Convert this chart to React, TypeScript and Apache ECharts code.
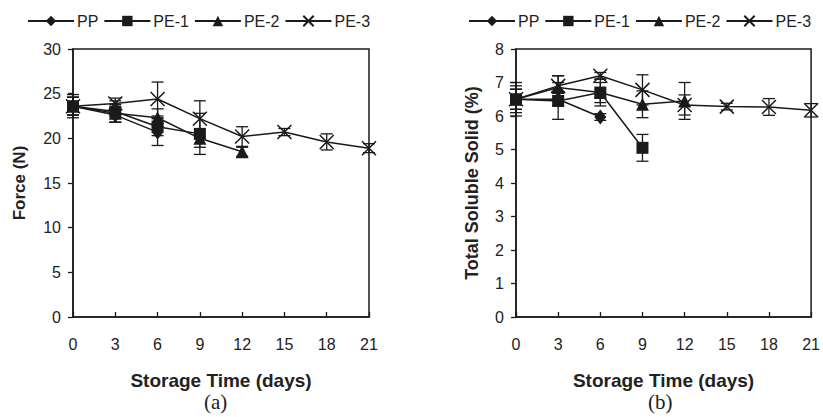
import React, { useEffect, useRef } from "react";
import * as echarts from "echarts";

const days = [0, 3, 6, 9, 12, 15, 18, 21];
const seriesNames = ["PP", "PE-1", "PE-2", "PE-3"];

// (a) Force (N)
const forcePP = [23.6, 22.6, 20.7];
const forcePE1 = [23.6, 23.0, 21.3, 20.5];
const forcePE2 = [23.6, 22.8, 22.3, 20.0, 18.5];
const forcePE3 = [23.6, 23.9, 24.4, 22.2, 20.2, 20.7, 19.6, 18.9];
const forceErrPP = [1.0, 0.8, 1.5];
const forceErrPE1 = [1.3, 1.2, 1.0, 2.3];
const forceErrPE2 = [1.0, 1.0, 1.0, 1.0, 0.5];
const forceErrPE3 = [1.0, 0.6, 1.9, 2.0, 1.1, 0.4, 0.9, 0.5];

// (b) Total Soluble Solid (%)
const tssPP = [6.5, 6.5, 5.97];
const tssPE1 = [6.5, 6.45, 6.7, 5.05];
const tssPE2 = [6.5, 6.85, 6.7, 6.35, 6.45];
const tssPE3 = [6.5, 6.9, 7.2, 6.78, 6.33, 6.28, 6.27, 6.17];
const tssErrPP = [0.5, 0.2, 0.1];
const tssErrPE1 = [0.4, 0.55, 0.4, 0.4];
const tssErrPE2 = [0.3, 0.35, 0.3, 0.4, 0.55];
const tssErrPE3 = [0.3, 0.3, 0.1, 0.45, 0.3, 0.1, 0.25, 0.2];

const forceTicks = [0, 5, 10, 15, 20, 25, 30];
const tssTicks = [0, 1, 2, 3, 4, 5, 6, 7, 8];

const INK = "#1a1a1a";
const FONT = "'Liberation Sans', Arial, sans-serif";

const symbols: Record<string, { symbol: string; size: number | number[]; hollow?: boolean }> = {
  PP: { symbol: "diamond", size: [12, 15] },
  "PE-1": { symbol: "rect", size: 12 },
  "PE-2": { symbol: "triangle", size: 13 },
  "PE-3": { symbol: "path://M0,0L10,10M10,0L0,10", size: 14, hollow: true },
};

function App() {
  const ref = useRef<HTMLDivElement>(null);
  useEffect(() => {
    if (!ref.current) return;
    const chart = echarts.init(ref.current, null, { renderer: "svg" });

    const grids = [
      { left: 73, right: 454, top: 49, bottom: 100 },
      { left: 516, right: 11, top: 49, bottom: 100 },
    ];

    const panels = [
      {
        vals: [forcePP, forcePE1, forcePE2, forcePE3],
        errs: [forceErrPP, forceErrPE1, forceErrPE2, forceErrPE3],
      },
      {
        vals: [tssPP, tssPE1, tssPE2, tssPE3],
        errs: [tssErrPP, tssErrPE1, tssErrPE2, tssErrPE3],
      },
    ];

    const series: any[] = [];
    panels.forEach((p, gi) => {
      seriesNames.forEach((name, si) => {
        const s = symbols[name];
        const data = p.vals[si].map((v, i) => [days[i], v]);
        series.push({
          type: "line",
          name,
          xAxisIndex: gi,
          yAxisIndex: gi,
          data,
          symbol: s.symbol,
          symbolSize: s.size,
          showAllSymbol: true,
          lineStyle: { color: INK, width: 1.5 },
          itemStyle: s.hollow
            ? { color: "rgba(0,0,0,0)", borderColor: INK, borderWidth: 1.5 }
            : { color: INK, borderWidth: 0 },
          z: 3,
          emphasis: { disabled: true },
        });
        const errData = p.vals[si].map((v, i) => [days[i], v, p.errs[si][i]]);
        series.push({
          type: "custom",
          name: name + " err",
          xAxisIndex: gi,
          yAxisIndex: gi,
          data: errData,
          z: 2,
          silent: true,
          renderItem: (params: any, api: any) => {
            const x = api.value(0);
            const y = api.value(1);
            const e = api.value(2);
            const top = api.coord([x, y + e]);
            const bot = api.coord([x, y - e]);
            const hw = 6;
            const st = { stroke: INK, lineWidth: 1.3 };
            return {
              type: "group",
              children: [
                { type: "line", shape: { x1: top[0], y1: top[1], x2: bot[0], y2: bot[1] }, style: st },
                { type: "line", shape: { x1: top[0] - hw, y1: top[1], x2: top[0] + hw, y2: top[1] }, style: st },
                { type: "line", shape: { x1: bot[0] - hw, y1: bot[1], x2: bot[0] + hw, y2: bot[1] }, style: st },
              ],
            };
          },
        });
      });
    });

    const xAxisBase = (gi: number) => ({
      type: "value",
      gridIndex: gi,
      min: 0,
      max: 21,
      interval: 3,
      axisLine: { show: true, lineStyle: { color: INK, width: 1.5 } },
      axisTick: { show: true, inside: true, length: 5, lineStyle: { color: INK, width: 1.3 } },
      axisLabel: { color: "#222", fontSize: 16, fontFamily: FONT, margin: 19 },
      splitLine: { show: false },
      name: "Storage Time (days)",
      nameLocation: "middle",
      nameGap: 54,
      nameTextStyle: { color: "#222", fontSize: 19, fontWeight: "bold", fontFamily: FONT },
    });

    const yAxisBase = (gi: number, max: number, interval: number, name: string, gap: number, fs: number) => ({
      type: "value",
      gridIndex: gi,
      min: 0,
      max,
      interval,
      axisLine: { show: true, lineStyle: { color: INK, width: 1.5 } },
      axisTick: { show: true, inside: false, length: 5, lineStyle: { color: INK, width: 1.3 } },
      axisLabel: { color: "#222", fontSize: 16, fontFamily: FONT, margin: 12 },
      splitLine: { show: false },
      name,
      nameLocation: "middle",
      nameGap: gap,
      nameTextStyle: { color: "#222", fontSize: fs, fontWeight: "bold", fontFamily: FONT },
    });

    const legendBase = (left: number) => ({
      data: seriesNames,
      left,
      top: 13,
      width: 420,
      padding: 0,
      itemWidth: 46,
      itemHeight: 13,
      itemGap: 5,
      selectedMode: false,
      textStyle: { color: "#222", fontSize: 16, fontFamily: FONT, padding: [0, 0, 0, -2] },
    });

    chart.setOption({
      animation: false,
      backgroundColor: "#fff",
      grid: grids.map((g) => ({ ...g, show: true, borderColor: INK, borderWidth: 1.5, containLabel: false })),
      xAxis: [xAxisBase(0), xAxisBase(1)],
      yAxis: [
        yAxisBase(0, forceTicks[forceTicks.length - 1], forceTicks[1] - forceTicks[0], "Force (N)", 45, 17),
        yAxisBase(1, tssTicks[tssTicks.length - 1], tssTicks[1] - tssTicks[0], "Total Soluble Solid (%)", 35, 18),
      ],
      legend: [legendBase(27), legendBase(468)],
      series,
      graphic: [
        {
          type: "text",
          left: 204,
          top: 391,
          style: { text: "(a)", font: "21px 'Liberation Serif', 'Times New Roman', serif", fill: "#222" },
        },
        {
          type: "text",
          left: 648,
          top: 391,
          style: { text: "(b)", font: "21px 'Liberation Serif', 'Times New Roman', serif", fill: "#222" },
        },
      ],
    });
    return () => chart.dispose();
  }, []);
  return <div ref={ref} style={{ width: 823, height: 417, position: "absolute", left: 0, top: 0 }} />;
}

export default App;
